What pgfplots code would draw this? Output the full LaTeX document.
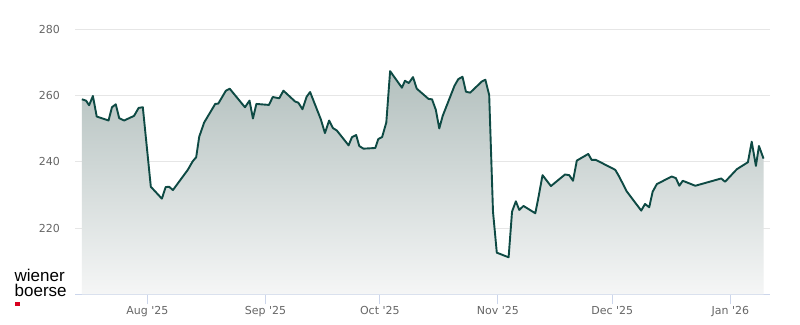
\documentclass[border=0pt]{standalone}
\usepackage{pgfplots}
\pgfplotsset{compat=1.18}
\usepackage{pgfplotstable}
\usepackage{fontspec}
\setmainfont{DejaVu Sans}
\newfontfamily\logofont{Liberation Sans}
\definecolor{linecol}{HTML}{0E4A44}
\definecolor{filltop}{HTML}{B3C0BE}
\definecolor{fillbot}{HTML}{F5F6F6}
\definecolor{gridcol}{HTML}{E6E6E6}
\definecolor{axiscol}{HTML}{CCD6EB}
\definecolor{labcol}{HTML}{666666}
\definecolor{logored}{HTML}{D8001F}
\pgfplotstableread{
d v
-17.2 258.9
-16.1 258.5
-15.3 257.1
-14.3 259.9
-13.3 253.7
-10.2 252.5
-9.3 256.5
-8.3 257.4
-7.4 253.2
-6.1 252.5
-3.5 253.9
-2.3 256.3
-1.2 256.5
0.9 232.5
3.8 228.9
4.8 232.4
5.7 232.5
6.7 231.5
10.6 237.6
11.9 240.2
12.8 241.4
13.6 247.6
14.9 251.9
17.8 257.5
18.6 257.6
20.6 261.5
21.6 262.1
25.6 256.5
26.8 258.5
27.7 253.1
28.6 257.5
31.9 257.2
32.9 259.6
34.6 259.2
35.7 261.5
38.8 258.2
39.6 257.9
40.7 255.9
41.8 259.7
42.7 261.1
45.5 252.9
46.6 248.7
47.7 252.5
48.7 250.2
49.7 249.5
52.8 245.0
53.7 247.5
54.8 248.1
55.6 244.8
56.7 244.0
59.8 244.2
60.6 246.9
61.6 247.5
62.7 251.9
63.7 267.4
66.8 262.4
67.6 264.5
68.6 263.8
69.7 265.6
70.7 262.1
73.8 259.0
74.7 258.9
75.7 255.7
76.6 250.1
77.5 253.9
80.6 263.0
81.6 265.0
82.7 265.7
83.6 261.2
84.7 260.9
87.8 264.3
88.7 264.8
89.7 260.2
90.7 225.0
91.7 212.6
94.8 211.2
95.7 225.0
96.7 228.1
97.6 225.5
98.7 226.7
101.8 224.5
102.5 228.5
103.7 236.0
105.9 232.7
109.6 236.2
110.7 236.0
111.7 234.3
112.7 240.4
115.7 242.4
116.6 240.6
117.7 240.6
122.8 237.6
123.8 235.6
125.8 231.1
129.6 225.3
130.6 227.3
131.7 226.3
132.6 231.0
133.7 233.3
137.6 235.6
138.7 235.1
139.6 232.8
140.5 234.3
143.8 232.8
150.6 235.0
151.6 234.0
154.7 237.8
157.6 239.9
158.6 246.1
159.7 238.8
160.5 244.8
161.7 241.0
}\pricedata
\begin{document}
\begin{tikzpicture}[x=1pt,y=1pt]
\path[use as bounding box, fill=white] (0,0) rectangle (800,324);
\begin{axis}[
  at={(75pt,29.6pt)}, anchor=south west,
  scale only axis, width=695pt, height=265pt,
  xmin=-19, xmax=163.4, ymin=200, ymax=280,
  axis x line*=bottom, axis y line*=left,
  x axis line style={draw=axiscol, line width=1pt},
  y axis line style={draw=none},
  xtick={0,31,61,92,122,153},
  xticklabels={Aug \textquotesingle25, Sep \textquotesingle25, Oct \textquotesingle25, Nov \textquotesingle25, Dec \textquotesingle25, Jan \textquotesingle26},
  xtick align=outside,
  xtick style={draw=axiscol, line width=1pt},
  major tick length=10pt,
  ytick={220,240,260,280},
  ytick style={draw=none},
  ymajorgrids, grid style={draw=gridcol, line width=1pt},
  tick label style={font=\fontsize{11}{13}\selectfont, text=labcol},
  /pgf/number format/assume math mode=true,
  yticklabel style={anchor=east, inner sep=0pt, xshift=-15pt},
  xticklabel style={anchor=north, inner sep=0pt, yshift=-1.5pt},
  clip=false,
]
\addplot[draw=none, top color=filltop, bottom color=fillbot] table[x=d, y=v] {\pricedata} |- (axis cs:-17.2,200) -- cycle;
\addplot[draw=linecol, line width=1.9pt, line join=round, mark=none] table[x=d, y=v] {\pricedata};
\end{axis}
\node[anchor=south west, inner sep=0pt, align=left, font=\logofont\fontsize{17}{15}\selectfont] at (14.5,27) {wiener\\boerse};
\fill[logored] (15,18) rectangle (19.5,22.5);
\end{tikzpicture}
\end{document}
